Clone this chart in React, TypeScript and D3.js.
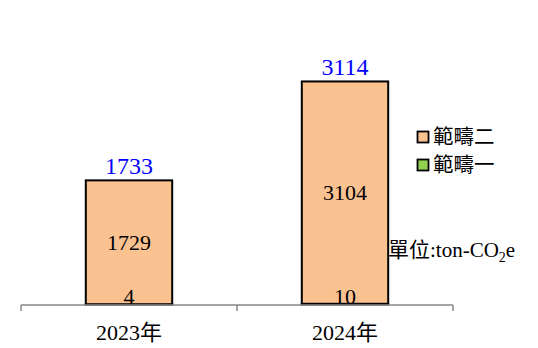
import React from "react";
import * as d3 from "d3";

const categories = ["2023年", "2024年"];
const scope1 = [4, 10];
const scope2 = [1729, 3104];
const totals = [1733, 3114];
const legendLabels = ["範疇二", "範疇一"];
const unitLabel = "單位:ton-CO";

const W = 538;
const H = 348;
const FONT = "'Liberation Serif', 'Times New Roman', 'Noto Sans CJK TC', serif";

export default function App() {
  const x = d3.scaleBand<string>().domain(categories).range([21, 453]).paddingInner(0).paddingOuter(0);
  const y = d3.scaleLinear().domain([0, 3500]).range([304.5, 53.8]);
  const barW = x.bandwidth() * 0.4;
  const colors = { s2: "#FAC191", s1: "#92D050" };

  const ticks = [...categories.map((c) => x(c) as number), (x(categories[categories.length - 1]) as number) + x.bandwidth()];

  return (
    <div style={{ position: "absolute", left: 0, top: 0 }}>
      <svg width={W} height={H} style={{ display: "block" }} fontFamily={FONT}>
        <rect x={0} y={0} width={W} height={H} fill="#fff" />
        {categories.map((c, i) => {
          const cx = (x(c) as number) + x.bandwidth() / 2;
          const x0 = cx - barW / 2;
          const y0 = y(0);
          const y1 = y(scope1[i]);
          const y2 = y(scope1[i] + scope2[i]);
          return (
            <g key={c}>
              <rect x={x0} y={y1} width={barW} height={y0 - y1} fill={colors.s1} stroke="#000" strokeWidth={2} />
              <rect x={x0} y={y2} width={barW} height={y1 - y2} fill={colors.s2} stroke="#000" strokeWidth={2} />
              <text x={cx} y={(y1 + y2) / 2} textAnchor="middle" dominantBaseline="central" fontSize={22} fill="#000">
                {scope2[i]}
              </text>
              <text x={cx} y={y0 - 0.5} textAnchor="middle" fontSize={22} fill="#000">
                {scope1[i]}
              </text>
              <text x={cx} y={y(totals[i]) - 6} textAnchor="middle" fontSize={24} fill="#0000FF">
                {totals[i]}
              </text>
              <text x={cx} y={339.5} textAnchor="middle" fontSize={22} fill="#000">
                {c}
              </text>
            </g>
          );
        })}
        <line x1={ticks[0]} x2={ticks[ticks.length - 1]} y1={305} y2={305} stroke="#888" strokeWidth={1.5} />
        {ticks.map((t, i) => (
          <line key={i} x1={t} x2={t} y1={305} y2={311} stroke="#888" strokeWidth={1.5} />
        ))}
        {legendLabels.map((l, i) => (
          <g key={l} transform={`translate(417, ${131 + i * 28})`}>
            <rect x={0.5} y={0.5} width={11} height={11} fill={i === 0 ? colors.s2 : colors.s1} stroke="#000" strokeWidth={1.8} />
            <text x={16} y={6} dominantBaseline="central" fontSize={20.5} fill="#000">
              {l}
            </text>
          </g>
        ))}
        <text x={388} y={257} fontSize={21} fill="#000">
          {unitLabel}
          <tspan fontSize={14} dy={5}>2</tspan>
          <tspan dy={-5}>e</tspan>
        </text>
      </svg>
    </div>
  );
}
